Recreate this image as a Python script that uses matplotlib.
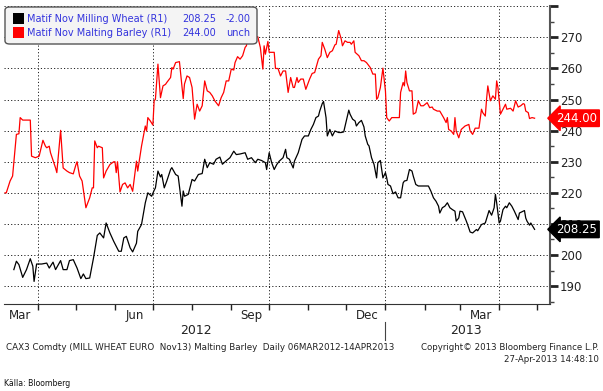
import pandas as pd
import matplotlib
matplotlib.use("Agg")
import matplotlib.pyplot as plt
import matplotlib.dates as mdates
from matplotlib.patches import FancyBboxPatch, Rectangle
from matplotlib.lines import Line2D

plt.rcParams['font.family'] = ['DejaVu Sans']

START = pd.Timestamp("2012-03-06")

# days after 06 Mar 2012 / price (EUR/t)
wheat_days = [7, 9, 11, 14, 17, 20, 22, 23, 25, 29, 33, 35, 38, 40, 44, 46, 49, 51, 54, 57,
              60, 62, 64, 67, 70, 73, 75, 78, 80, 83, 86, 90, 92, 94, 96, 99, 101, 104, 105, 108,
              111, 113, 116, 118, 119, 121, 123, 124, 126, 128, 131, 132, 135, 137, 140, 141, 142, 145, 148, 150,
              153, 156, 158, 160, 162, 165, 167, 170, 172, 175, 178, 181, 183, 186, 190, 192, 195, 198, 200, 203,
              206, 207, 209, 211, 213, 215, 217, 220, 222, 223, 225, 228, 229, 232, 235, 237, 240, 242, 244, 246,
              248, 249, 251, 252, 254, 255, 257, 259, 261, 264, 266, 268, 270, 272, 273, 275, 277, 278, 280, 282,
              284, 285, 287, 288, 290, 292, 294, 295, 297, 299, 301, 302, 303, 305, 307, 309, 311, 313, 315, 316,
              318, 320, 322, 323, 325, 327, 335, 337, 339, 341, 343, 344, 346, 348, 350, 352, 354, 356, 357, 359,
              360, 362, 365, 366, 368, 370, 373, 374, 377, 380, 382, 383, 385, 387, 388, 389, 391, 392, 394, 396,
              397, 399, 401, 403, 404, 406, 407, 410, 411, 412, 413, 415, 416, 418, 419]
wheat_vals = [195.3, 198.0, 196.9, 192.8, 195.3, 198.8, 196.4, 191.5, 197.1, 197.1, 197.4, 195.8, 197.7, 195.3, 198.2, 195.3, 195.3, 198.2, 198.5, 195.8,
              192.4, 193.9, 192.4, 192.6, 199.0, 206.3, 207.1, 205.5, 210.3, 207.1, 204.4, 201.2, 201.2, 205.5, 206.0, 202.3, 201.0, 203.8, 207.6, 209.8,
              216.8, 220.0, 218.9, 220.8, 221.6, 227.0, 225.1, 225.9, 221.6, 223.8, 227.5, 228.1, 225.9, 225.4, 215.7, 220.6, 218.9, 219.5, 224.3, 223.8,
              225.9, 226.2, 230.8, 228.1, 229.7, 229.2, 230.8, 231.5, 229.2, 230.3, 231.3, 233.4, 232.3, 232.5, 232.9, 230.8, 231.3, 229.7, 230.8, 230.4,
              229.7, 227.5, 232.9, 229.7, 227.5, 229.1, 230.2, 231.3, 234.0, 231.3, 230.8, 228.0, 230.2, 232.9, 237.2, 238.3, 238.3, 240.4, 242.0, 244.2,
              244.7, 246.3, 248.7, 249.4, 244.2, 238.3, 240.4, 238.3, 239.9, 239.4, 239.4, 239.6, 243.1, 246.6, 245.3, 243.7, 243.1, 241.5, 242.6, 243.3,
              241.2, 238.3, 235.6, 235.1, 231.3, 229.1, 224.8, 229.7, 230.4, 224.8, 226.5, 224.8, 222.7, 222.2, 219.7, 220.3, 218.4, 218.4, 223.2, 223.8,
              224.0, 227.5, 227.0, 225.4, 222.7, 222.2, 222.2, 220.5, 218.4, 217.3, 215.7, 213.5, 215.2, 215.7, 216.8, 215.2, 214.6, 214.1, 210.9, 211.9,
              214.1, 213.9, 210.9, 209.8, 207.4, 207.1, 208.2, 207.8, 209.8, 210.3, 213.0, 214.3, 212.8, 215.2, 219.5, 216.8, 210.3, 210.9, 214.6, 215.7,
              215.2, 216.8, 215.7, 214.1, 213.2, 211.4, 213.5, 214.1, 214.3, 211.9, 210.9, 209.6, 210.3, 208.9, 208.25]

barley_days = [0, 1, 4, 6, 9, 11, 12, 14, 20, 21, 24, 27, 30, 32, 33, 35, 36, 40, 41, 44,
               46, 49, 51, 54, 56, 57, 59, 61, 64, 67, 69, 70, 71, 73, 74, 77, 78, 80, 83, 86,
               87, 88, 89, 91, 93, 95, 97, 99, 101, 104, 105, 108, 111, 112, 113, 115, 117, 118, 119, 121,
               123, 125, 127, 128, 131, 132, 133, 135, 138, 139, 141, 142, 144, 146, 148, 150, 152, 154, 156, 158,
               160, 162, 164, 166, 169, 171, 173, 175, 177, 179, 181, 182, 184, 186, 188, 190, 191, 192, 195, 200,
               202, 204, 205, 206, 208, 209, 211, 213, 214, 216, 218, 220, 222, 224, 226, 228, 229, 231, 232, 234,
               236, 238, 241, 243, 245, 248, 250, 251, 253, 255, 257, 259, 261, 262, 264, 266, 267, 269, 271, 273,
               274, 276, 277, 280, 282, 284, 286, 289, 291, 293, 294, 295, 297, 299, 301, 302, 304, 306, 312, 313,
               315, 316, 317, 318, 320, 322, 323, 325, 327, 329, 331, 334, 336, 338, 339, 342, 344, 347, 349, 350,
               351, 353, 355, 356, 357, 359, 361, 364, 367, 368, 370, 372, 375, 377, 378, 380, 381, 382, 384, 386,
               388, 389, 390, 392, 394, 396, 397, 400, 402, 404, 406, 408, 410, 411, 412, 414, 415, 417, 419]
barley_vals = [220.0, 220.0, 223.8, 225.4, 238.8, 239.0, 244.2, 243.4, 243.4, 231.8, 231.3, 231.8, 236.9, 235.0, 234.5, 235.0, 232.9, 228.0, 226.5, 240.1,
               228.0, 227.0, 226.5, 226.1, 228.9, 230.0, 225.4, 223.8, 215.2, 218.4, 221.6, 221.6, 236.7, 234.5, 235.0, 234.5, 224.8, 227.0, 229.1, 230.0,
               230.0, 226.5, 230.0, 220.3, 222.7, 223.2, 221.6, 222.7, 220.5, 230.2, 227.0, 235.0, 241.5, 239.9, 244.2, 243.1, 241.8, 249.6, 250.1, 261.4,
               250.6, 254.4, 254.9, 255.5, 257.1, 260.3, 259.8, 261.9, 262.2, 258.2, 250.3, 255.0, 257.6, 257.1, 253.9, 243.7, 248.5, 246.3, 248.0, 256.0,
               252.8, 252.3, 251.2, 249.6, 248.0, 250.6, 252.3, 256.0, 256.0, 259.8, 259.5, 261.9, 263.8, 263.0, 264.1, 266.8, 267.3, 270.0, 270.2, 270.2,
               266.8, 259.8, 267.3, 264.6, 268.7, 265.2, 265.2, 265.2, 260.0, 260.0, 257.6, 259.2, 259.2, 252.3, 257.1, 253.9, 253.9, 257.1, 255.5, 256.6,
               256.6, 253.3, 256.6, 258.4, 258.7, 263.0, 264.1, 268.4, 266.2, 263.5, 265.2, 265.7, 267.6, 267.8, 272.2, 269.5, 267.3, 268.9, 268.4, 268.4,
               267.8, 268.9, 265.2, 264.1, 262.5, 262.5, 261.9, 260.3, 258.2, 258.2, 250.1, 250.6, 253.9, 260.1, 252.8, 244.2, 243.1, 244.2, 244.2, 252.3,
               255.5, 254.4, 259.2, 255.5, 252.8, 252.8, 245.3, 245.8, 249.6, 248.0, 248.0, 249.0, 247.4, 247.6, 246.9, 246.3, 246.3, 244.2, 242.6, 244.2,
               240.4, 239.9, 238.8, 244.2, 239.9, 237.7, 240.4, 241.5, 242.0, 239.9, 238.8, 240.8, 240.8, 246.9, 245.8, 244.7, 250.1, 254.4, 249.6, 251.2,
               250.1, 256.0, 253.9, 245.3, 246.9, 248.5, 246.9, 247.2, 246.3, 249.6, 247.6, 248.0, 248.7, 248.5, 246.3, 245.8, 243.9, 244.2, 244.0]

legend_names = ["Matif Nov Milling Wheat (R1)", "Matif Nov Malting Barley (R1)"]
legend_last = ["208.25", "244.00"]
legend_change = ["-2.00", "unch"]
series_colors = ["black", "#ff0000"]

month_labels = ["Mar", "Jun", "Sep", "Dec", "Mar"]
month_label_dates = ["2012-03-18", "2012-06-17", "2012-09-17", "2012-12-18", "2013-03-18"]
year_labels = ["2012", "2013"]
year_label_dates = ["2012-08-04", "2013-03-06"]

wheat_x = START + pd.to_timedelta(wheat_days, unit="D")
barley_x = START + pd.to_timedelta(barley_days, unit="D")

fig = plt.figure(figsize=(6.03, 3.91), dpi=100)
ax = fig.add_axes([4 / 603, 1 - 303.5 / 391, 546 / 603, 297.5 / 391])

ax.plot(barley_x, barley_vals, color=series_colors[1], lw=0.9, zorder=3)
ax.plot(wheat_x, wheat_vals, color=series_colors[0], lw=0.9, zorder=3)

ax.set_xlim(START - pd.Timedelta(days=0.8), START + pd.Timedelta(days=431.2))
ax.set_ylim(184.4, 280.1)

# right hand price axis
ax.yaxis.tick_right()
ax.set_yticks(range(190, 290, 10))
ax.set_yticklabels([str(v) for v in range(190, 280, 10)] + [""])
ax.set_yticks(range(185, 285, 5), minor=True)
ax.tick_params(axis="y", which="major", direction="out", length=6, width=2,
               color="#222222", labelsize=8.5, labelcolor="#222222", pad=1)
ax.tick_params(axis="y", which="minor", direction="out", length=3, width=1, color="#444444")

# date axis: gridlines at quarter ends, ticks every month
ax.xaxis.set_major_locator(mdates.MonthLocator(bymonth=[1, 4, 7, 10]))
ax.xaxis.set_minor_locator(mdates.MonthLocator())
ax.xaxis.set_major_formatter(plt.NullFormatter())
ax.tick_params(axis="x", which="both", direction="out", length=4, width=1, color="#222222")

ax.grid(True, which="major", axis="both", color="#222222", lw=0.7, linestyle=(0, (1.2, 2.2)))

for side in ["left", "top"]:
    ax.spines[side].set_visible(False)
ax.spines["right"].set_color("#555555")
ax.spines["right"].set_linewidth(1.5)
ax.spines["bottom"].set_color("#333333")

xt = ax.get_xaxis_transform()
for lab, d in zip(month_labels, month_label_dates):
    ax.text(pd.Timestamp(d), -0.0387, lab, transform=xt, ha="center", va="center",
            fontsize=8.5, color="#222222")
for lab, d in zip(year_labels, year_label_dates):
    ax.text(pd.Timestamp(d), -0.091, lab, transform=xt, ha="center", va="center",
            fontsize=9, color="#222222")
ax.add_line(Line2D([pd.Timestamp("2013-01-01")] * 2, [-0.062, -0.123], transform=xt,
                   color="#444444", lw=0.8, clip_on=False))

# last price boxes on the axis
yt = ax.get_yaxis_transform()
for val, col in [(barley_vals[-1], series_colors[1]), (wheat_vals[-1], series_colors[0])]:
    ax.text(1.012, val, f"{val:.2f}", transform=yt, ha="left", va="center", color="white",
            fontsize=8.5, zorder=10, clip_on=False,
            bbox=dict(boxstyle="larrow,pad=0.15", fc=col, ec=col))

# legend box
fig.patches.append(FancyBboxPatch((5 / 603, 1 - 44 / 391), 252 / 603, 37 / 391,
                                  boxstyle="round,pad=0,rounding_size=0.008",
                                  transform=fig.transFigure, fc="#f4f4f4", ec="#555555", lw=1))
for i in range(2):
    yy = 1 - (19 + 13.5 * i) / 391
    fig.patches.append(Rectangle((12.5 / 603, yy - 5.5 / 391), 11 / 603, 11 / 391,
                                 transform=fig.transFigure, fc=series_colors[i], ec="none"))
    fig.text(27 / 603, yy, legend_names[i], ha="left", va="center", fontsize=7, color="#3333dd")
    fig.text(182 / 603, yy, legend_last[i], ha="left", va="center", fontsize=7, color="#3333dd")
    fig.text(226 / 603, yy, legend_change[i], ha="left", va="center", fontsize=7, color="#3333dd")

# footer
fig.text(6 / 603, 1 - 347.5 / 391, "CAX3 Comdty (MILL WHEAT EURO  Nov13) Malting Barley  Daily 06MAR2012-14APR2013",
         ha="left", va="center", fontsize=6.3, color="#222222")
fig.text(599 / 603, 1 - 347.5 / 391, "Copyright\u00a9 2013 Bloomberg Finance L.P.",
         ha="right", va="center", fontsize=6.2, color="#222222")
fig.text(599 / 603, 1 - 359 / 391, "27-Apr-2013 14:48:10",
         ha="right", va="center", fontsize=6.2, color="#222222")
fig.text(4 / 603, 1 - 383 / 391, "K\u00e4lla: Bloomberg", ha="left", va="center",
         fontsize=5.6, color="#111111")

fig.savefig("out.png", dpi=100)
